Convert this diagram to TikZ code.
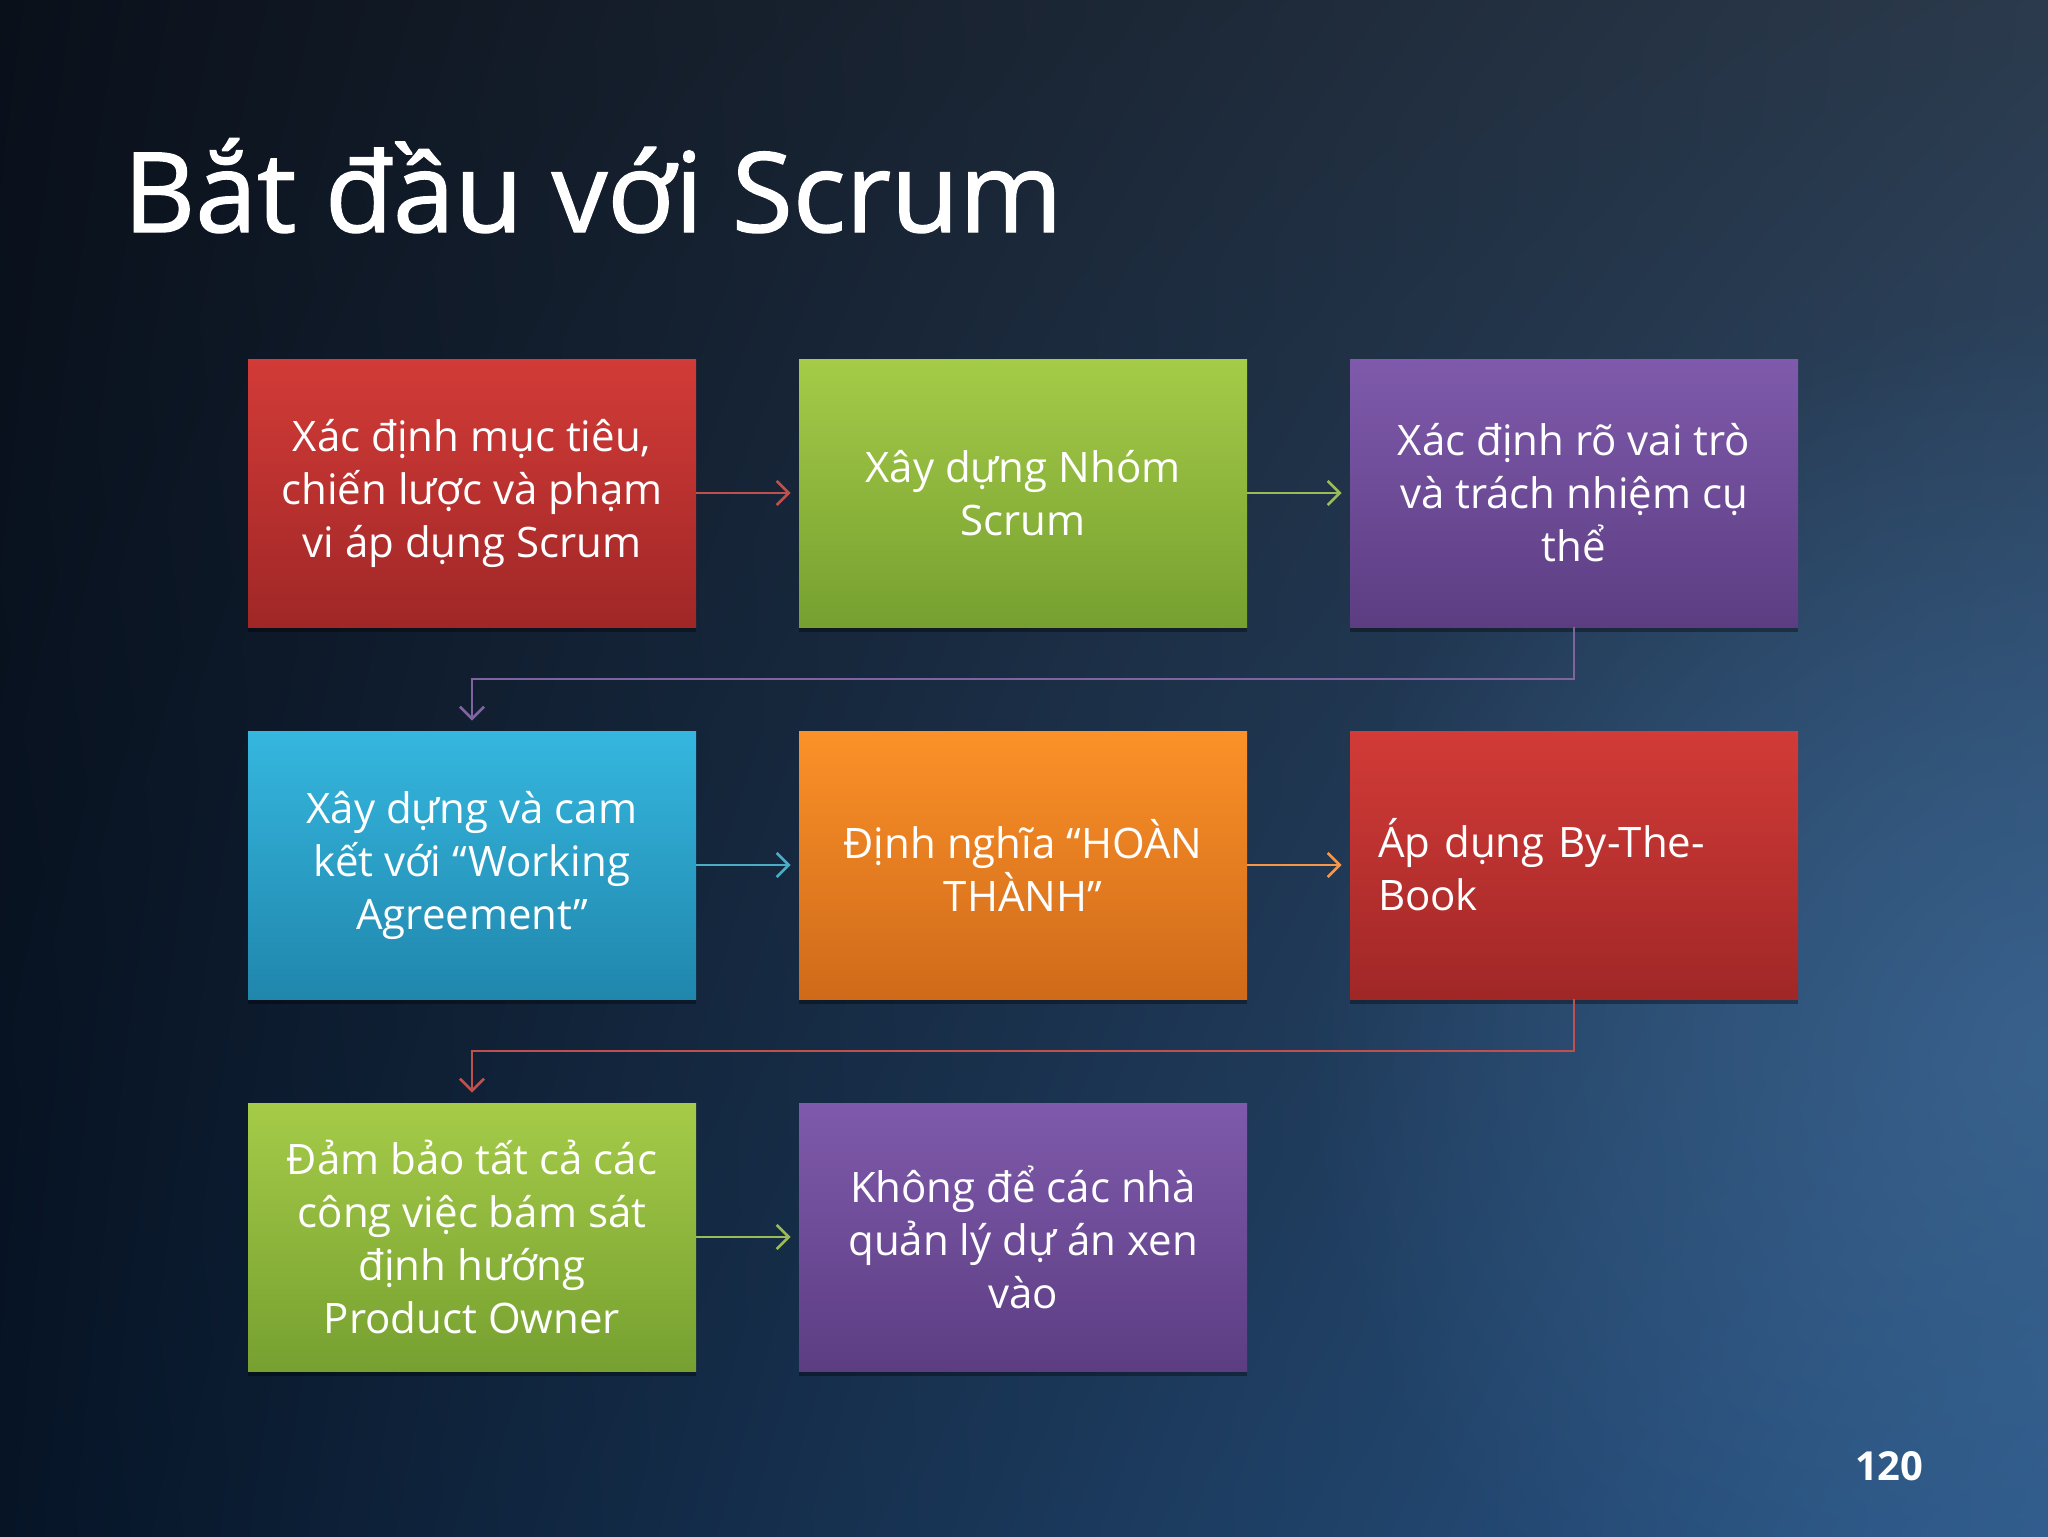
\documentclass[tikz,border=0pt]{standalone}
\usepackage{fontspec}
\setmainfont{Open Sans}
\newfontfamily\titlefont[FakeBold=1.2]{Open Sans}
\usetikzlibrary{arrows.meta,calc,shadows,fadings,shadings}
\tikzfading[name=glowfade, inner color=transparent!0, outer color=transparent!100]
\definecolor{bgUL}{HTML}{0A101A}
\definecolor{bgUR}{HTML}{2B3A4C}
\definecolor{bgLL}{HTML}{061426}
\definecolor{bgLR}{HTML}{2D5A8C}
\definecolor{glowC}{HTML}{3D6894}
\definecolor{rTop}{HTML}{D23B37}
\definecolor{rBot}{HTML}{A02727}
\definecolor{gTop}{HTML}{A5CB48}
\definecolor{gBot}{HTML}{76A030}
\definecolor{pTop}{HTML}{7F5AAC}
\definecolor{pBot}{HTML}{5C3D82}
\definecolor{cTop}{HTML}{35B7DF}
\definecolor{cBot}{HTML}{2086AC}
\definecolor{oTop}{HTML}{FB9128}
\definecolor{oBot}{HTML}{CF6A1A}
\definecolor{rArr}{HTML}{C0504D}
\definecolor{gArr}{HTML}{9BBB59}
\definecolor{pArr}{HTML}{8064A2}
\definecolor{cArr}{HTML}{4BACC6}
\definecolor{oArr}{HTML}{F79646}
\begin{document}
\begin{tikzpicture}[x=0.5pt,y=-0.5pt,
  box/.style={minimum width=224pt, minimum height=134pt, inner sep=0pt, align=center,
    text=white, font=\fontsize{21}{26.5}\selectfont,
    drop shadow={shadow xshift=0pt, shadow yshift=-2.5pt, opacity=0.35, fill=black}},
  redbox/.style={box, top color=rTop, bottom color=rBot},
  greenbox/.style={box, top color=gTop, bottom color=gBot},
  purplebox/.style={box, top color=pTop, bottom color=pBot},
  cyanbox/.style={box, top color=cTop, bottom color=cBot},
  orangebox/.style={box, top color=oTop, bottom color=oBot},
  arr/.style={line width=1.35pt, -{Straight Barb[length=6pt,width=12pt]}},
  hop/.style={arr, shorten >=4pt},
  drop/.style={arr, shorten >=5pt}]
\useasboundingbox (0,0) rectangle (2048,1536);
\shade[upper left=bgUL, upper right=bgUR, lower left=bgLL, lower right=bgLR] (0,0) rectangle (2048,1536);
\begin{scope}
\clip (0,0) rectangle (2048,1536);
\fill[glowC, path fading=glowfade, opacity=0.7] (2048,1050) circle (750);
\end{scope}

\node[anchor=base west, inner sep=0pt, text=white, font=\titlefont\fontsize{55.5}{60}\selectfont] (title) at (123,232) {Bắt đầu với Scrum};
\node[anchor=base east, inner sep=0pt, text=white, font=\bfseries\fontsize{20}{24}\selectfont] (pg) at (1924,1480) {120};

\node[redbox] (b1) at (472,493) {Xác định mục tiêu,\\chiến lược và phạm\\vi áp dụng Scrum};
\node[greenbox] (b2) at (1023,493) {Xây dựng Nhóm\\Scrum};
\node[purplebox] (b3) at (1574,493) {Xác định rõ vai trò\\và trách nhiệm cụ\\thể};
\node[cyanbox] (b4) at (472,865) {Xây dựng và cam\\kết với “Working\\Agreement”};
\node[orangebox] (b5) at (1023,865) {Định nghĩa “HOÀN\\THÀNH”};
\node[redbox, align=left, text width=196pt] (b6) at (1574,865) {Áp dụng By-The-\\Book};
\node[greenbox] (b7) at (472,1237) {Đảm bảo tất cả các\\công việc bám sát\\định hướng\\Product Owner};
\node[purplebox] (b8) at (1023,1237) {Không để các nhà\\quản lý dự án xen\\vào};

\coordinate (m1) at ($(b3.south)!0.5!(b4.north)$);
\coordinate (m2) at ($(b6.south)!0.5!(b7.north)$);

\draw[hop, rArr] (b1.east) -- (b2.west);
\draw[hop, gArr] (b2.east) -- (b3.west);
\draw[drop, pArr] (b3.south) |- (m1) -| (b4.north);
\draw[hop, cArr] (b4.east) -- (b5.west);
\draw[hop, oArr] (b5.east) -- (b6.west);
\draw[drop, rArr] (b6.south) |- (m2) -| (b7.north);
\draw[hop, gArr] (b7.east) -- (b8.west);
\end{tikzpicture}
\end{document}
